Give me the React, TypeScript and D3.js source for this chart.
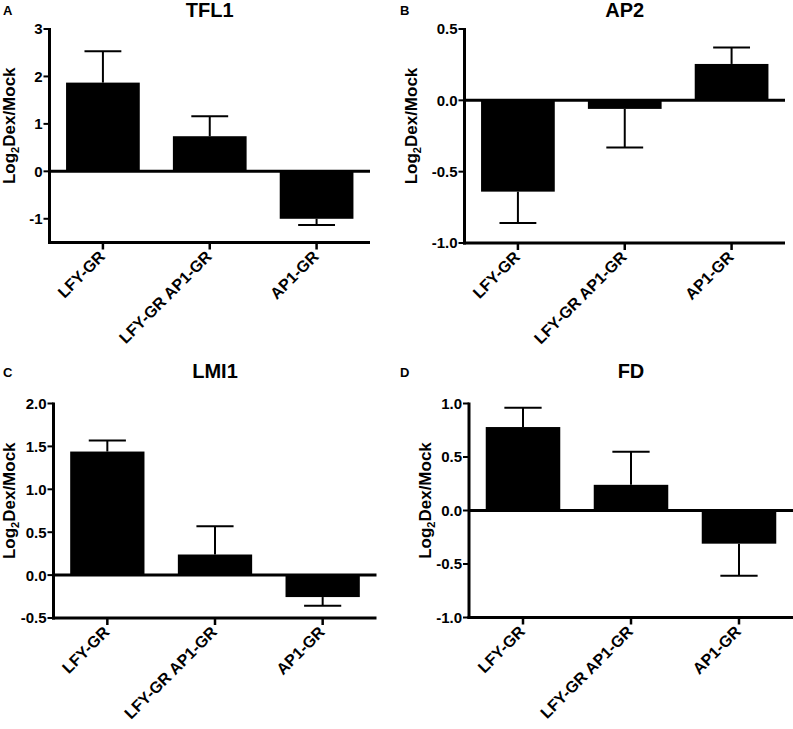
import React, { useRef, useEffect } from 'react';
import * as d3 from 'd3';

// categories shared by all four panels
const categories = ['LFY-GR', 'LFY-GR AP1-GR', 'AP1-GR'];

// panel A - TFL1
const tfl1Means = [1.87, 0.74, -1.0];
const tfl1Errors = [0.66, 0.42, 0.13];
const tfl1Ticks = [-1, 0, 1, 2, 3];

// panel B - AP2
const ap2Means = [-0.64, -0.06, 0.255];
const ap2Errors = [0.22, 0.27, 0.115];
const ap2Ticks = [-1.0, -0.5, 0.0, 0.5];

// panel C - LMI1
const lmi1Means = [1.44, 0.24, -0.256];
const lmi1Errors = [0.13, 0.33, 0.1];
const lmi1Ticks = [-0.5, 0.0, 0.5, 1.0, 1.5, 2.0];

// panel D - FD
const fdMeans = [0.78, 0.24, -0.31];
const fdErrors = [0.18, 0.31, 0.3];
const fdTicks = [-1.0, -0.5, 0.0, 0.5, 1.0];

const FONT = "'Liberation Sans', Arial, Helvetica, sans-serif";

type Panel = {
  letter: string;
  title: string;
  means: number[];
  errors: number[];
  ticks: number[];
  domain: [number, number];
  decimals: number;
  x0: number;
  x1: number;
  yTop: number;
  yBottom: number;
  titleY: number;
  labelX: number;
};

const panels: Panel[] = [
  { letter: 'A', title: 'TFL1', means: tfl1Means, errors: tfl1Errors, ticks: tfl1Ticks,
    domain: [-1.5, 3], decimals: 0, x0: 49.5, x1: 370, yTop: 29, yBottom: 242.5, titleY: 16.5, labelX: 15 },
  { letter: 'B', title: 'AP2', means: ap2Means, errors: ap2Errors, ticks: ap2Ticks,
    domain: [-1, 0.5], decimals: 1, x0: 464.5, x1: 785, yTop: 29, yBottom: 243, titleY: 16.5, labelX: 417 },
  { letter: 'C', title: 'LMI1', means: lmi1Means, errors: lmi1Errors, ticks: lmi1Ticks,
    domain: [-0.5, 2], decimals: 1, x0: 53.5, x1: 376.5, yTop: 403.5, yBottom: 618, titleY: 378, labelX: 15 },
  { letter: 'D', title: 'FD', means: fdMeans, errors: fdErrors, ticks: fdTicks,
    domain: [-1, 1], decimals: 1, x0: 469, x1: 793, yTop: 403.5, yBottom: 617.5, titleY: 378, labelX: 431 },
];

const App = () => {
  const svgRef = useRef<SVGSVGElement>(null);
  const width = 793;
  const height = 729;

  useEffect(() => {
    const svg = d3.select(svgRef.current);
    svg.selectAll('*').remove();

    panels.forEach((p) => {
      const g = svg.append('g');

      const x = d3.scaleBand<string>()
        .domain(categories)
        .range([p.x0, p.x1])
        .paddingInner(0.31)
        .paddingOuter(0.155);

      const y = d3.scaleLinear()
        .domain(p.domain)
        .range([p.yBottom, p.yTop]);

      const rows = categories.map((c, i) => ({ c, m: p.means[i], e: p.errors[i] }));

      // bars
      g.selectAll('rect.bar')
        .data(rows)
        .join('rect')
        .attr('class', 'bar')
        .attr('x', d => x(d.c)!)
        .attr('width', x.bandwidth())
        .attr('y', d => Math.min(y(d.m), y(0)))
        .attr('height', d => Math.abs(y(d.m) - y(0)))
        .attr('fill', '#000');

      // error bars (one-sided, away from zero)
      const capW = x.bandwidth() / 2;
      rows.forEach(d => {
        const cx = x(d.c)! + x.bandwidth() / 2;
        const end = d.m >= 0 ? d.m + d.e : d.m - d.e;
        g.append('line')
          .attr('x1', cx).attr('x2', cx)
          .attr('y1', y(d.m)).attr('y2', y(end))
          .attr('stroke', '#000').attr('stroke-width', 2);
        g.append('line')
          .attr('x1', cx - capW / 2).attr('x2', cx + capW / 2)
          .attr('y1', y(end)).attr('y2', y(end))
          .attr('stroke', '#000').attr('stroke-width', 2);
      });

      // zero line
      g.append('line')
        .attr('x1', p.x0).attr('x2', p.x1)
        .attr('y1', y(0)).attr('y2', y(0))
        .attr('stroke', '#000').attr('stroke-width', 3);

      // bottom axis
      g.append('line')
        .attr('x1', p.x0 - 1.5).attr('x2', p.x1)
        .attr('y1', p.yBottom).attr('y2', p.yBottom)
        .attr('stroke', '#000').attr('stroke-width', 3);

      // left axis
      g.append('line')
        .attr('x1', p.x0).attr('x2', p.x0)
        .attr('y1', p.yTop - 1).attr('y2', p.yBottom + 1.5)
        .attr('stroke', '#000').attr('stroke-width', 3);

      // y ticks
      p.ticks.forEach(t => {
        g.append('line')
          .attr('x1', p.x0 - 6).attr('x2', p.x0)
          .attr('y1', y(t)).attr('y2', y(t))
          .attr('stroke', '#000').attr('stroke-width', 2);
        g.append('text')
          .attr('x', p.x0 - 7)
          .attr('y', y(t))
          .attr('dy', '0.36em')
          .attr('text-anchor', 'end')
          .attr('font-family', FONT)
          .attr('font-weight', 'bold')
          .attr('font-size', 15)
          .text(t.toFixed(p.decimals));
      });

      // x ticks and rotated labels
      categories.forEach(c => {
        const cx = x(c)! + x.bandwidth() / 2;
        g.append('line')
          .attr('x1', cx).attr('x2', cx)
          .attr('y1', p.yBottom).attr('y2', p.yBottom + 7)
          .attr('stroke', '#000').attr('stroke-width', 2.5);
        g.append('text')
          .attr('transform', `translate(${cx + 3},${p.yBottom + 15}) rotate(-45)`)
          .attr('text-anchor', 'end')
          .attr('font-family', FONT)
          .attr('font-weight', 'bold')
          .attr('font-size', 16)
          .text(c);
      });

      // y axis label
      const ly = (p.yTop + p.yBottom) / 2 - 10;
      const label = g.append('text')
        .attr('transform', `translate(${p.labelX},${ly}) rotate(-90)`)
        .attr('text-anchor', 'middle')
        .attr('font-family', FONT)
        .attr('font-weight', 'bold')
        .attr('font-size', 17);
      label.append('tspan').text('Log');
      label.append('tspan').attr('font-size', 11).attr('dy', 4).text('2');
      label.append('tspan').attr('dy', -4).text('Dex/Mock');

      // title
      g.append('text')
        .attr('x', (p.x0 + p.x1) / 2)
        .attr('y', p.titleY)
        .attr('text-anchor', 'middle')
        .attr('font-family', FONT)
        .attr('font-weight', 'bold')
        .attr('font-size', 20)
        .text(p.title);

      // panel letter
      g.append('text')
        .attr('x', p.x0 < 100 ? 3 : 400)
        .attr('y', p.titleY - 1.5)
        .attr('font-family', FONT)
        .attr('font-weight', 'bold')
        .attr('font-size', 13)
        .text(p.letter);
    });
  }, []);

  return (
    <div>
      <svg
        ref={svgRef}
        width={width}
        height={height}
        style={{ position: 'absolute', left: 0, top: 0, background: '#fff' }}
      />
    </div>
  );
};

export default App;
